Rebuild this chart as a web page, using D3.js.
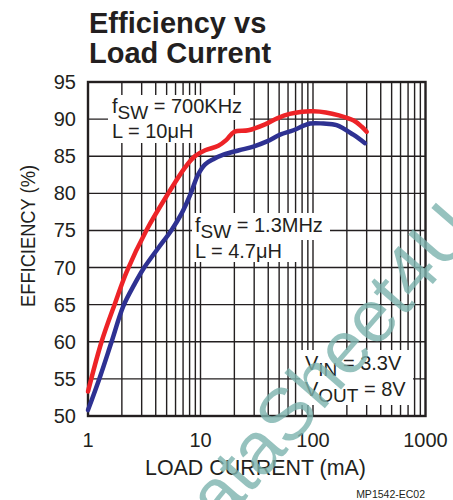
<!DOCTYPE html>
<html lang="en">
<head>
  <meta charset="UTF-8" />
  <title>Efficiency vs Load Current</title>
  <script src="https://cdn.jsdelivr.net/npm/d3@7"></script>
  <style>
    body { margin: 0; background: #fff; }
    text { font-family: "Liberation Sans", Arial, Helvetica, sans-serif; fill: #231f20; }
  </style>
</head>
<body>
  <div id="chart"></div>

  <script>
    // values
    let xTicks = [1, 10, 100, 1000];
    let yTicks = [50, 55, 60, 65, 70, 75, 80, 85, 90, 95];

    // fSW = 700KHz, L = 10uH
    let redCurrent = [1, 1.32, 1.74, 2.2, 3.3, 5.17, 7.3, 8.9, 11, 14.4, 17, 20, 26.6, 37.5, 48, 62, 80, 100, 130, 170, 230, 270, 300];
    let redEff     = [53.3, 60, 65.2, 69.4, 75, 80, 83.5, 85, 85.8, 86.4, 87.2, 88.3, 88.5, 89.3, 90.1, 90.7, 91.0, 91.05, 90.9, 90.5, 89.8, 89.0, 88.3];

    // fSW = 1.3MHz, L = 4.7uH
    let blueCurrent = [1, 1.28, 1.62, 2.06, 2.6, 3.1, 4.2, 5.5, 6.8, 8.2, 9.5, 11, 13, 16, 22, 29.5, 39, 51, 67, 94, 124, 162, 228, 290];
    let blueEff     = [50.8, 55.3, 60, 64.8, 67.8, 69.8, 72.6, 75, 77.3, 80, 82.5, 83.9, 84.6, 85.2, 85.8, 86.3, 87.0, 87.9, 88.5, 89.4, 89.4, 89.2, 87.9, 86.75];

    let width = 453, height = 500;
    let plot = {left: 88, right: 425.5, top: 82, bottom: 416};

    let svg = d3.select('#chart')
      .append('svg')
        .attr('width', width)
        .attr('height', height);

    let x = d3.scaleLog()
      .domain([1, 1000])
      .range([plot.left, plot.right]);

    let y = d3.scaleLinear()
      .domain([50, 95])
      .range([plot.bottom, plot.top]);

    // title
    svg.append('text').attr('x', 89).attr('y', 33)
      .style('font-size', '29px').style('font-weight', 'bold')
      .text('Efficiency vs');
    svg.append('text').attr('x', 89).attr('y', 63)
      .style('font-size', '29px').style('font-weight', 'bold')
      .text('Load Current');

    // grid
    let minor = [];
    for (let dec = 1; dec < 1000; dec *= 10) {
      for (let k = 1; k < 10; k++) minor.push(dec * k);
    }
    let grid = svg.append('g').attr('stroke', '#231f20').attr('stroke-width', 1.4);
    grid.selectAll('line.v')
      .data(minor)
      .enter()
      .append('line')
        .attr('x1', d => x(d)).attr('x2', d => x(d))
        .attr('y1', plot.top).attr('y2', plot.bottom);
    grid.selectAll('line.h')
      .data(yTicks)
      .enter()
      .append('line')
        .attr('x1', plot.left).attr('x2', plot.right)
        .attr('y1', d => y(d)).attr('y2', d => y(d));

    // white boxes behind annotations
    let boxes = [
      [108, 95, 142, 25], [108, 120, 97, 23],
      [192, 213, 138, 27], [192, 240, 106, 22],
      [300, 350, 113, 55]
    ];
    svg.selectAll('rect.box')
      .data(boxes)
      .enter()
      .append('rect')
        .attr('x', d => d[0]).attr('y', d => d[1])
        .attr('width', d => d[2]).attr('height', d => d[3])
        .attr('fill', '#fff');

    // frame
    svg.append('rect')
      .attr('x', plot.left).attr('y', plot.top)
      .attr('width', plot.right - plot.left).attr('height', plot.bottom - plot.top)
      .attr('fill', 'none').attr('stroke', '#231f20').attr('stroke-width', 2.4);

    // curves
    let line = d3.line()
      .x(d => x(d[0]))
      .y(d => y(d[1]))
      .curve(d3.curveCatmullRom.alpha(0.5));

    svg.append('path')
      .datum(d3.zip(blueCurrent, blueEff))
      .attr('d', line)
      .attr('fill', 'none').attr('stroke', '#2e3192')
      .attr('stroke-width', 4.5).attr('stroke-linecap', 'round');

    svg.append('path')
      .datum(d3.zip(redCurrent, redEff))
      .attr('d', line)
      .attr('fill', 'none').attr('stroke', '#ed2327')
      .attr('stroke-width', 4.5).attr('stroke-linecap', 'round');

    // tick labels
    svg.selectAll('text.yt')
      .data(yTicks)
      .enter()
      .append('text')
        .attr('x', 76).attr('y', d => y(d) + 7)
        .attr('text-anchor', 'end')
        .style('font-size', '20px')
        .text(d => d);

    svg.selectAll('text.xt')
      .data(xTicks)
      .enter()
      .append('text')
        .attr('x', d => x(d)).attr('y', 447)
        .attr('text-anchor', 'middle')
        .style('font-size', '20px')
        .text(d => d);

    // axis titles
    svg.append('text')
      .attr('x', 145).attr('y', 475)
      .attr('textLength', 221).attr('lengthAdjust', 'spacingAndGlyphs')
      .style('font-size', '22px')
      .text('LOAD CURRENT (mA)');

    svg.append('text')
      .attr('transform', 'translate(35,307) rotate(-90)')
      .attr('textLength', 142).attr('lengthAdjust', 'spacingAndGlyphs')
      .style('font-size', '20px')
      .text('EFFICIENCY (%)');

    // annotations
    function label(px, py, parts) {
      let t = svg.append('text').attr('x', px).attr('y', py).style('font-size', '20px');
      parts.forEach(p => {
        let s = t.append('tspan').text(p[0]);
        if (p[1] === 'sub') s.attr('dy', 6).style('font-size', '19px');
        if (p[1] === 'up') s.attr('dy', -6);
      });
    }
    label(112, 113, [['f'], ['SW', 'sub'], [' = 700KHz', 'up']]);
    label(112, 138, [['L = 10\u03bcH']]);
    label(195, 232, [['f'], ['SW', 'sub'], [' = 1.3MHz', 'up']]);
    label(195, 258, [['L = 4.7\u03bcH']]);
    label(305, 370, [['V'], ['IN', 'sub'], [' = 3.3V', 'up']]);
    label(305, 396, [['V'], ['OUT', 'sub'], [' = 8V', 'up']]);

    svg.append('text')
      .attr('x', 425).attr('y', 498)
      .attr('text-anchor', 'end')
      .style('font-size', '10.5px')
      .text('MP1542-EC02');

    // watermark
    svg.append('text')
      .attr('transform', 'translate(478,232) rotate(-49)')
      .attr('text-anchor', 'end')
      .style('font-size', '74px')
      .style('fill', '#7db4af')
      .style('opacity', 0.8)
      .text('DataSheet4U');
  </script>
</body>
</html>
